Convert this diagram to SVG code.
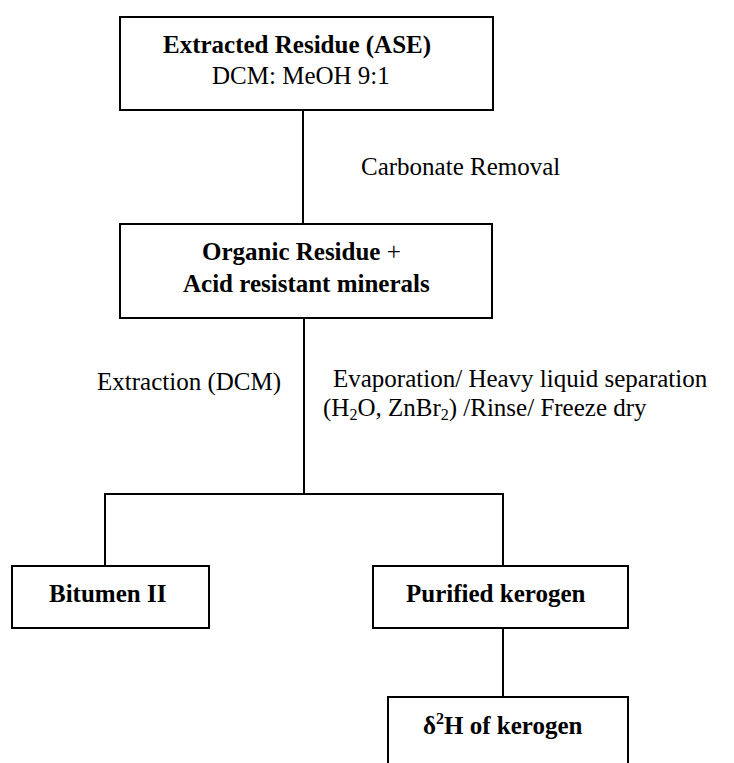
<svg xmlns="http://www.w3.org/2000/svg" width="734" height="763" viewBox="0 0 734 763">
<style>
.box{fill:#fff;stroke:#000;stroke-width:2}
.ln{fill:none;stroke:#000;stroke-width:2}
text{font-family:"Liberation Serif",Tinos,"Times New Roman",Times,"DejaVu Serif",serif;font-size:25px;fill:#000}
.b{font-weight:bold}
.sub{font-size:16px}
</style>
<rect width="734" height="763" fill="#fff"/>
<g id="connectors">
<line class="ln" x1="303" y1="110" x2="303" y2="224"/>
<line class="ln" x1="304" y1="318" x2="304" y2="494"/>
<polyline class="ln" points="105,566 105,494 503,494 503,566"/>
<line class="ln" x1="503" y1="628" x2="503" y2="697"/>
</g>
<g id="extracted-residue" font-family="Liberation Serif, serif">
<rect class="box" x="120" y="17" width="373" height="93"/>
<text class="b" x="163" y="53">Extracted Residue (ASE)</text>
<text x="212" y="84">DCM: MeOH 9:1</text>
</g>
<g id="label-carbonate" font-family="Liberation Serif, serif">
<text x="361" y="175">Carbonate Removal</text>
</g>
<g id="organic-residue" font-family="Liberation Serif, serif">
<rect class="box" x="120" y="224" width="372" height="94"/>
<text class="b" x="202" y="260">Organic Residue <tspan font-weight="normal">+</tspan></text>
<text class="b" x="183" y="292">Acid resistant minerals</text>
</g>
<g id="label-extraction" font-family="Liberation Serif, serif">
<text x="97" y="390">Extraction (DCM)</text>
</g>
<g id="label-evaporation" font-family="Liberation Serif, serif">
<text x="333" y="387">Evaporation/ Heavy liquid separation</text>
<text x="323" y="416">(H<tspan class="sub" dy="4">2</tspan><tspan dy="-4">O, ZnBr</tspan><tspan class="sub" dy="4">2</tspan><tspan dy="-4">) /Rinse/ Freeze dry</tspan></text>
</g>
<g id="bitumen" font-family="Liberation Serif, serif">
<rect class="box" x="12" y="566" width="197" height="62"/>
<text class="b" x="49" y="602">Bitumen II</text>
</g>
<g id="purified-kerogen" font-family="Liberation Serif, serif">
<rect class="box" x="373" y="566" width="255" height="62"/>
<text class="b" x="406" y="602">Purified kerogen</text>
</g>
<g id="delta-kerogen" font-family="Liberation Serif, serif">
<rect class="box" x="388" y="697" width="240" height="80"/>
<text class="b" x="423" y="734">δ<tspan class="sub" dy="-10">2</tspan><tspan dy="10">H of kerogen</tspan></text>
</g>
</svg>
